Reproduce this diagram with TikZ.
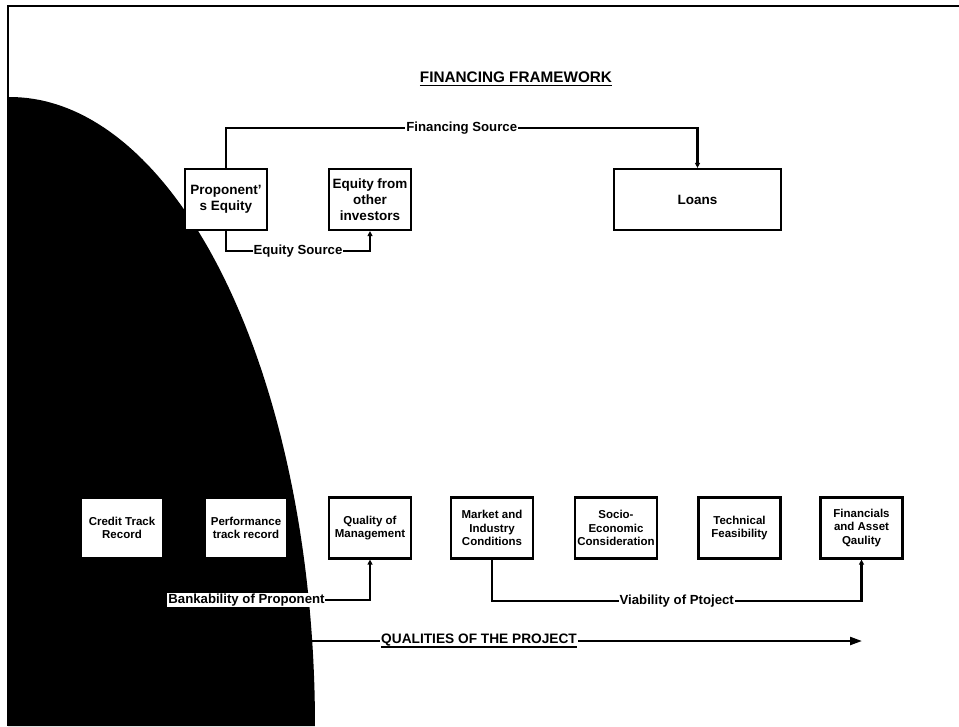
\documentclass[tikz,border=0pt]{standalone}
\usepackage{fontspec}
\setmainfont{Liberation Sans}
\usetikzlibrary{arrows.meta}

% bold underline drawn as a rule beneath the text box
\newcommand\ulbar[1]{\leavevmode\setbox0\hbox{#1}%
  \rlap{\vrule height -2.2pt depth 4pt width \wd0}\box0}

\tikzset{
  conn/.style={line width=2.2pt, line cap=rect},
  tip/.style={-{Triangle[length=5pt,width=5pt]}},
  bigtip/.style={-{Triangle[length=12pt,width=8pt]}},
  topbox/.style={draw, line width=2.2pt, fill=white, minimum height=61pt,
    align=center, inner sep=1pt, font=\fontsize{13.5}{16}\selectfont\bfseries},
  botbox/.style={draw, line width=2.2pt, fill=white, minimum width=82pt,
    minimum height=61pt, align=center, inner sep=1pt,
    font=\fontsize{11.5}{13.5}\selectfont\bfseries},
  lbl/.style={fill=white, inner sep=1pt, font=\fontsize{13.2}{15}\selectfont\bfseries},
  heading/.style={fill=white, inner sep=1pt, font=\fontsize{15.3}{18}\selectfont\bfseries},
  subheading/.style={fill=white, inner sep=1pt, font=\fontsize{13.7}{16}\selectfont\bfseries},
}

\begin{document}
\begin{tikzpicture}[x=1pt, y=-1pt]
  \useasboundingbox (0,0) rectangle (959,726);
  \fill[white] (0,0) rectangle (959,726);

  % page frame (top and left edges)
  \draw[line width=2.4pt] (8,726) -- (8,6) -- (959,6);

  % dark quarter-ellipse backdrop on the left
  \fill[black] (8,726) -- (8,97)
    -- plot[domain=90:0, samples=120] ({10+305*cos(\x)}, {726-629*sin(\x)})
    -- cycle;

  % title
  \node[heading] (title) at (516,79) {\ulbar{FINANCING FRAMEWORK}};

  % financing sources
  \node[topbox, minimum width=82pt]  (prop)  at (226,199.5) {Proponent'\\s Equity};
  \node[topbox, minimum width=82pt]  (eqo)   at (370,199.5) {Equity from\\other\\investors};
  \node[topbox, minimum width=167pt] (loans) at (697.5,199.5) {Loans};

  \draw[conn, tip] (prop.north) -- ++(0,-40)
    -| node[lbl, pos=0.25] {Financing Source} (loans.north);
  \draw[conn, tip] (prop.south) -- ++(0,20)
    -| node[lbl, pos=0.25] {Equity Source} (eqo.south);

  % qualities assessed
  \node[botbox] (credit) at (122,528)   {Credit Track\\Record};
  \node[botbox] (perf)   at (246,528)   {Performance\\track record};
  \node[botbox] (qual)   at (370,528)   {Quality of\\Management};
  \node[botbox] (market) at (492,528)   {Market and\\Industry\\Conditions};
  \node[botbox] (socio)  at (616,528)   {Socio-\\Economic\\Consideration};
  \node[botbox] (tech)   at (739.5,528) {Technical\\Feasibility};
  \node[botbox] (fin)    at (861.5,528) {Financials\\and Asset\\Qaulity};

  \node[lbl] (bank) at (246.5,600) {Bankability of Proponent};
  \draw[conn, tip] (bank.east) -| (qual.south);
  \draw[conn, tip] (market.south) -- ++(0,41)
    -| node[lbl, pos=0.25] {Viability of Ptoject} (fin.south);

  % qualities arrow
  \coordinate (qs) at (311,641);
  \coordinate (qe) at (862,641);
  \draw[conn, bigtip, line cap=butt] (qs) -- node[subheading, pos=0.305] {\ulbar{QUALITIES OF THE PROJECT}} (qe);
\end{tikzpicture}
\end{document}
